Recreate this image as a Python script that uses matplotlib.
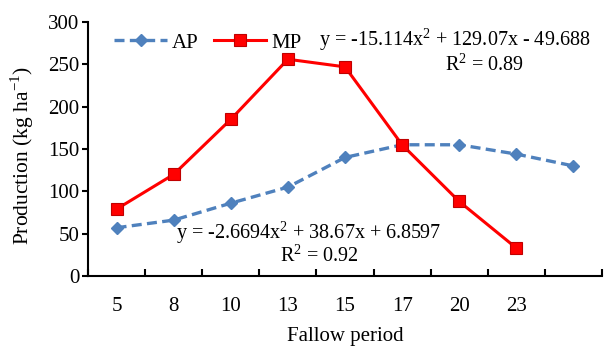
import matplotlib
matplotlib.use("Agg")
import matplotlib.pyplot as plt
import numpy as np

plt.rcParams['font.family'] = ['Liberation Serif', 'DejaVu Serif']
plt.rcParams['mathtext.fontset'] = 'custom'
plt.rcParams['mathtext.rm'] = 'Liberation Serif'

categories = ["5", "8", "10", "13", "15", "17", "20", "23", ""]
ap_values = [57, 66, 86, 105, 140, 155, 155, 144, 130]
mp_values = [79, 120, 185, 256, 247, 155, 88, 33]
y_ticks = [0, 50, 100, 150, 200, 250, 300]

fig = plt.figure(figsize=(6.04, 3.47), dpi=100)
ax = fig.add_axes([0.1457, 0.2046, 0.851, 0.732])

x_ap = np.arange(len(ap_values))
x_mp = np.arange(len(mp_values))

ax.plot(x_ap, ap_values, color='#4F81BD', linestyle=(0, (3, 1.6)), linewidth=2.4,
        marker='D', markersize=6, markerfacecolor='#4F81BD', markeredgecolor='#4F81BD', label='AP')
ax.plot(x_mp, mp_values, color='#FF0000', linestyle='-', linewidth=2.2,
        marker='s', markersize=8, markerfacecolor='#FF0000', markeredgecolor='#C00000',
        markeredgewidth=0.8, label='MP')

ax.set_xlim(-0.5, len(categories) - 0.5)
ax.set_ylim(0, 300)
ax.set_yticks(y_ticks)
ax.set_xticks(np.arange(len(categories)))
ax.set_xticklabels(categories)
ax.set_xticks(np.arange(len(categories) + 1) - 0.5, minor=True)
ax.tick_params(axis='x', which='major', length=0, labelsize=15, pad=15)
ax.tick_params(axis='x', which='minor', direction='in', length=5, width=1.5)
ax.tick_params(axis='y', direction='out', length=4, width=1.5, labelsize=15, pad=2)

for s in ['top', 'right']:
    ax.spines[s].set_visible(False)
for s in ['left', 'bottom']:
    ax.spines[s].set_linewidth(1.5)

ax.set_xlabel('Fallow period', fontsize=15, labelpad=8)
ax.set_ylabel('Production (kg ha$^{-1}$)', fontsize=15.5)
ax.yaxis.set_label_coords(-0.102, 0.476)

ax.legend(loc='upper left', bbox_to_anchor=(0.015, 1.03), ncol=2, frameon=False,
          fontsize=15, handlelength=2.5, columnspacing=0.75, handletextpad=0.25)

ax.text(0.978, 0.93, 'y = -15.114x$^{2}$ + 129.07x - 49.688', transform=ax.transAxes,
        fontsize=14.5, ha='right', va='center')
ax.text(0.849, 0.83, 'R$^{2}$ = 0.89', transform=ax.transAxes,
        fontsize=14.5, ha='right', va='center')
ax.text(0.171, 0.17, 'y = -2.6694x$^{2}$ + 38.67x + 6.8597', transform=ax.transAxes,
        fontsize=14.5, ha='left', va='center')
ax.text(0.527, 0.08, 'R$^{2}$ = 0.92', transform=ax.transAxes,
        fontsize=14.5, ha='right', va='center')

fig.savefig('out.png', dpi=100)
